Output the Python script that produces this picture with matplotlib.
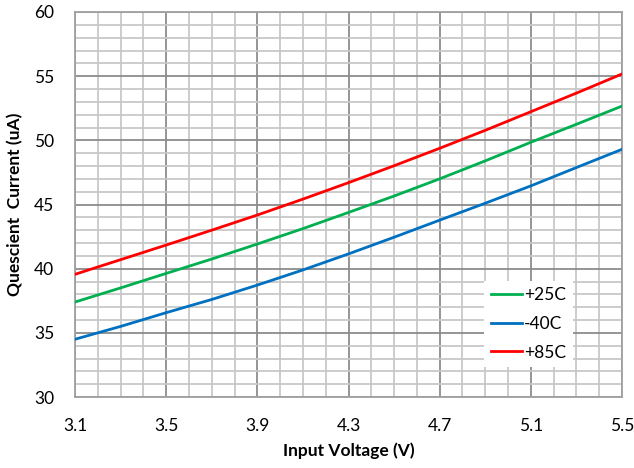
import matplotlib
matplotlib.use("Agg")
import matplotlib.pyplot as plt
from matplotlib.ticker import MultipleLocator, FixedLocator

plt.rcParams['font.family'] = ['Lato', 'DejaVu Sans']

voltage = [3.1, 3.3, 3.5, 3.7, 3.9, 4.1, 4.3, 4.5, 4.7, 4.9, 5.1, 5.3, 5.5]
iq_25c = [37.4, 38.5, 39.63, 40.75, 41.92, 43.12, 44.38, 45.66, 47.0, 48.4, 49.85, 51.25, 52.67]
iq_m40c = [34.5, 35.5, 36.57, 37.6, 38.72, 39.9, 41.15, 42.45, 43.78, 45.1, 46.45, 47.88, 49.3]
iq_85c = [39.56, 40.7, 41.84, 43.0, 44.18, 45.42, 46.7, 48.02, 49.38, 50.78, 52.23, 53.68, 55.17]

x_ticks = [3.1, 3.5, 3.9, 4.3, 4.7, 5.1, 5.5]
x_tick_labels = ["3.1", "3.5", "3.9", "4.3", "4.7", "5.1", "5.5"]
y_ticks = [30, 35, 40, 45, 50, 55, 60]

fig = plt.figure(figsize=(6.34, 4.68), dpi=100)
ax = fig.add_axes([75/634, 1-397/468, 547/634, 385/468])

ax.plot(voltage, iq_25c, color='#00B050', lw=2.0, label='+25C', zorder=3)
ax.plot(voltage, iq_m40c, color='#0070C0', lw=2.0, label='-40C', zorder=3)
ax.plot(voltage, iq_85c, color='#FF0000', lw=2.0, label='+85C', zorder=3)

ax.set_xlim(3.1, 5.5)
ax.set_ylim(30, 60)
ax.xaxis.set_major_locator(FixedLocator(x_ticks))
ax.set_xticklabels(x_tick_labels)
ax.xaxis.set_minor_locator(MultipleLocator(0.1))
ax.yaxis.set_major_locator(FixedLocator(y_ticks))
ax.yaxis.set_minor_locator(MultipleLocator(1))

ax.grid(which='minor', color='#c8c8c8', lw=1.3, zorder=1)
ax.grid(which='major', color='#8c8c8c', lw=1.3, zorder=2)
ax.set_axisbelow(True)
ax.tick_params(which='both', length=0)
ax.tick_params(axis='x', pad=15, labelsize=12.5, colors='#000000')
ax.tick_params(axis='y', pad=15, labelsize=12.5)
for s in ax.spines.values():
    s.set_color('#a0a0a0')
    s.set_linewidth(1.3)

ax.set_xlabel('Input Voltage (V)', fontsize=12.5, fontweight='bold', labelpad=6)
ax.set_ylabel('Quescient  Current (uA)', fontsize=12.5, fontweight='bold', labelpad=8)

leg = ax.legend(loc='center', bbox_to_anchor=(528.5/634, 1-324/468), bbox_transform=fig.transFigure,
                frameon=True, fancybox=False, edgecolor='white', framealpha=1.0,
                fontsize=12.5, handlelength=1.8, handletextpad=0.15, labelspacing=0.72,
                borderpad=0.4)
leg.get_frame().set_linewidth(0)

fig.savefig('out.png', dpi=100)
